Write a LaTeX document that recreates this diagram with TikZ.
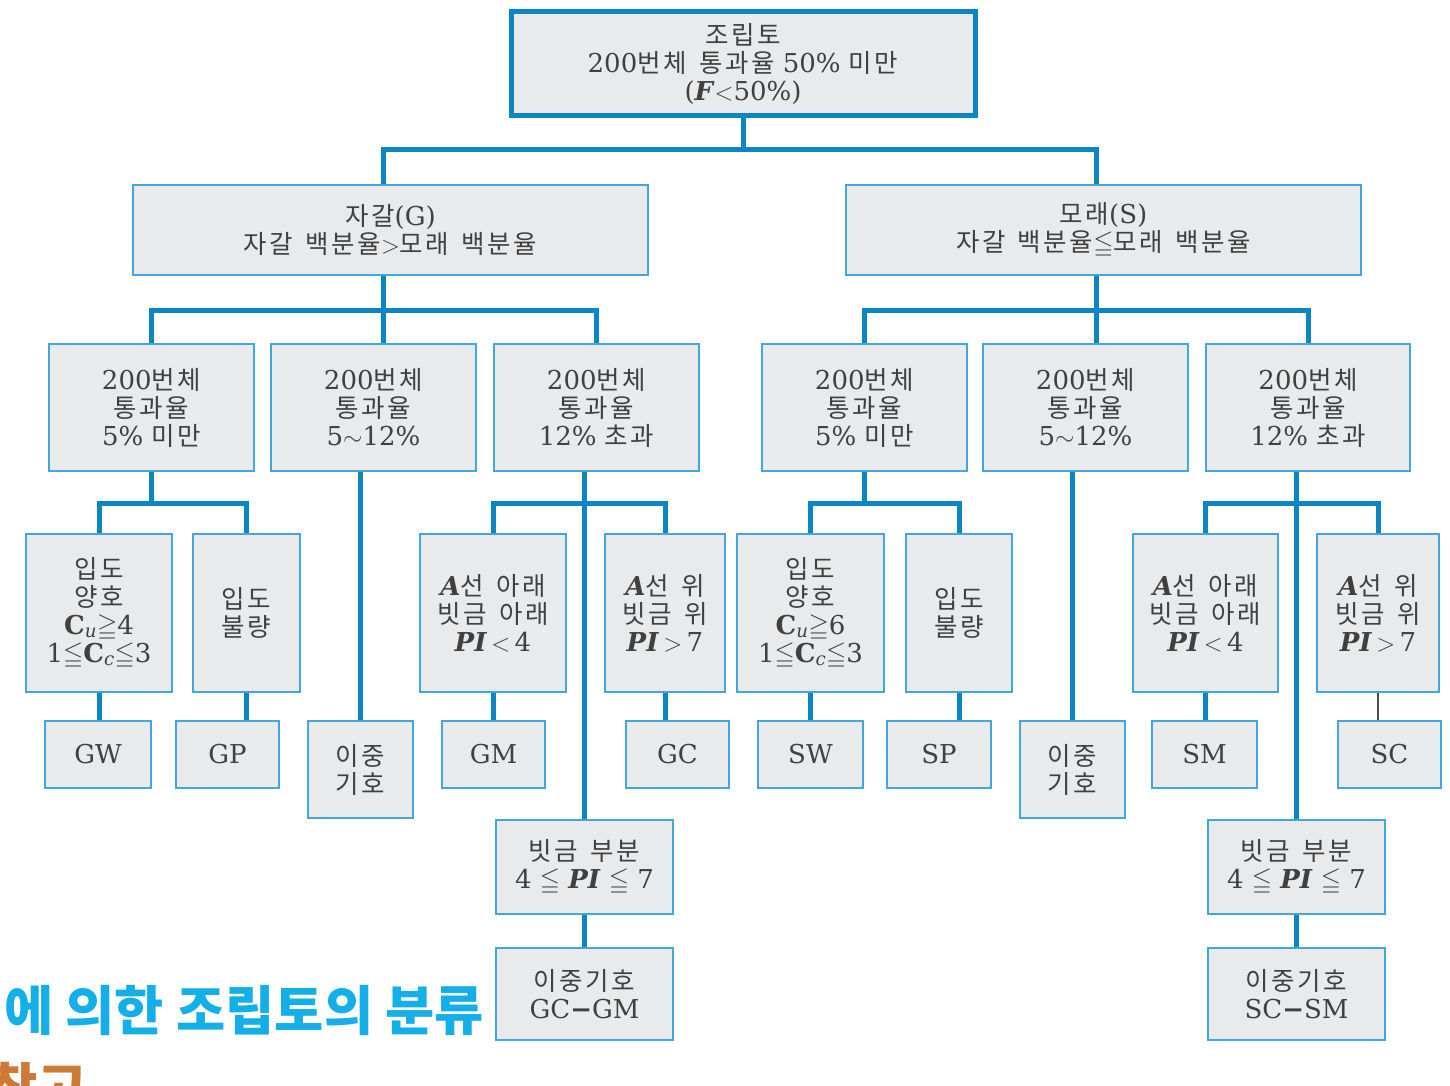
\documentclass[tikz,border=0pt]{standalone}
\usepackage{fontspec}
\usepackage{amssymb}
\setmainfont{DejaVu Serif}
\newfontfamily\krf{Noto Sans CJK KR}[Scale=0.98,LetterSpace=10,WordSpace=1.5]
\newfontfamily\krtitle{Noto Sans CJK KR}
\newcommand\hk[1]{{\krf #1}}
\newcommand\bi[1]{\textbf{\textit{#1}}}
\newcommand\sbx[1]{\textsubscript{\textit{#1}}}
\definecolor{cblue}{HTML}{0A86C6}
\definecolor{bbord}{HTML}{45A6DA}
\definecolor{bfill}{HTML}{E9EAEC}
\definecolor{tcol}{HTML}{404040}
\definecolor{tcyan}{HTML}{14AEE8}
\definecolor{torange}{HTML}{CD7A36}
\tikzset{
  box/.style={draw=bbord, fill=bfill, line width=2pt, inner sep=0pt, align=center,
    text=tcol, font=\fontsize{26}{28}\selectfont},
  topbox/.style={box, draw=cblue, line width=5pt},
  conn/.style={draw=cblue, line width=5pt},
  thinconn/.style={draw=black!70, line width=1.5pt},
}
\newcommand\kbox[7][box]{\node[#1, minimum width={#5-#3}, minimum height={#6-#4}] (#2) at ({(#3+#5)/2},{(#4+#6)/2}) {#7};}
\begin{document}
\begin{tikzpicture}[x=1pt,y=-1pt]
\useasboundingbox (0,0) rectangle (1450,1086);
\clip (0,0) rectangle (1450,1086);
% level 1-2
\kbox[topbox]{top}{511}{12}{975}{116}{\hk{조립토}\\200\hk{번체 통과율} 50\% \hk{미만}\\(\bi{F}$<$50\%)}
\kbox{G}{133}{185}{648}{275}{\hk{자갈}(G)\\\hk{자갈 백분율}$>$\hk{모래 백분율}}
\kbox{S}{846}{185}{1361}{275}{\hk{모래}(S)\\\hk{자갈 백분율}$\leqq$\hk{모래 백분율}}
% level 3
\kbox{g1}{49}{344}{254}{471}{200\hk{번체}\\\hk{통과율}\\5\% \hk{미만}}
\kbox{g2}{271}{344}{476}{471}{200\hk{번체}\\\hk{통과율}\\5$\sim$12\%}
\kbox{g3}{494}{344}{699}{471}{200\hk{번체}\\\hk{통과율}\\12\% \hk{초과}}
\kbox{s1}{762}{344}{967}{471}{200\hk{번체}\\\hk{통과율}\\5\% \hk{미만}}
\kbox{s2}{983}{344}{1188}{471}{200\hk{번체}\\\hk{통과율}\\5$\sim$12\%}
\kbox{s3}{1206}{344}{1410}{471}{200\hk{번체}\\\hk{통과율}\\12\% \hk{초과}}
% level 4
\kbox{ga}{26}{534}{172}{692}{\hk{입도}\\\hk{양호}\\\textbf{C}\sbx{u}$\geqq$4\\1$\leqq$\textbf{C}\sbx{c}$\leqq$3}
\kbox{gb}{193}{534}{300}{692}{\hk{입도}\\\hk{불량}}
\kbox{gc}{420}{534}{566}{692}{\bi{A}\hk{선 아래}\\\hk{빗금 아래}\\\bi{PI}\,$<$\,4}
\kbox{gd}{605}{534}{725}{692}{\bi{A}\hk{선 위}\\\hk{빗금 위}\\\bi{PI}\,$>$\,7}
\kbox{sa}{737}{534}{884}{692}{\hk{입도}\\\hk{양호}\\\textbf{C}\sbx{u}$\geqq$6\\1$\leqq$\textbf{C}\sbx{c}$\leqq$3}
\kbox{sb}{906}{534}{1012}{692}{\hk{입도}\\\hk{불량}}
\kbox{sc}{1133}{534}{1278}{692}{\bi{A}\hk{선 아래}\\\hk{빗금 아래}\\\bi{PI}\,$<$\,4}
\kbox{sd}{1317}{534}{1439}{692}{\bi{A}\hk{선 위}\\\hk{빗금 위}\\\bi{PI}\,$>$\,7}
% level 5
\kbox{GW}{45}{721}{151}{788}{GW}
\kbox{GP}{176}{721}{279}{788}{GP}
\kbox{gdual}{308}{721}{413}{818}{\hk{이중}\\\hk{기호}}
\kbox{GM}{442}{721}{545}{788}{GM}
\kbox{GC}{626}{721}{729}{788}{GC}
\kbox{SW}{758}{721}{863}{788}{SW}
\kbox{SP}{887}{721}{991}{788}{SP}
\kbox{sdual}{1020}{721}{1125}{818}{\hk{이중}\\\hk{기호}}
\kbox{SM}{1152}{721}{1257}{788}{SM}
\kbox{SC}{1338}{721}{1441}{788}{SC}
% borderline
\kbox{ghat}{496}{820}{673}{914}{\hk{빗금 부분}\\4 $\leqq$ \bi{PI} $\leqq$ 7}
\kbox{gdb}{496}{948}{673}{1040}{\hk{이중기호}\\GC\textbf{−}GM}
\kbox{shat}{1208}{820}{1385}{914}{\hk{빗금 부분}\\4 $\leqq$ \bi{PI} $\leqq$ 7}
\kbox{sdb}{1208}{948}{1385}{1040}{\hk{이중기호}\\SC\textbf{−}SM}
% junctions
\coordinate (j1) at (743,150);
\coordinate (xG) at (383,0);
\coordinate (xS) at (1096,0);
\coordinate (j2) at (383,310);
\coordinate (j3) at (1096,310);
\coordinate (j4) at (152,503);
\coordinate (j5) at (583,503);
\coordinate (j6) at (864,503);
\coordinate (j7) at (1296,503);
% connectors
\draw[conn] (top.south) -- (j1);
\draw[conn] (G.north -| xG) |- (j1) -| (S.north -| xS);
\draw[conn] (G.south -| xG) -- (g2.north -| xG);
\draw[conn] (g1.north) |- (j2) -| (g3.north);
\draw[conn] (S.south -| xS) -- (s2.north -| xS);
\draw[conn] (s1.north) |- (j3) -| (s3.north);
\draw[conn] (g1.south) -- (g1.south |- j4);
\draw[conn] (ga.north) |- (j4) -| (gb.north);
\draw[conn] (g2.south -| gdual.north) -- (gdual.north);
\draw[conn] (g3.south -| ghat.north) -- (ghat.north);
\draw[conn] (gc.north) |- (j5) -| (gd.north);
\draw[conn] (ghat.south) -- (gdb.north);
\draw[conn] (s1.south) -- (s1.south |- j6);
\draw[conn] (sa.north) |- (j6) -| (sb.north);
\draw[conn] (s2.south -| sdual.north) -- (sdual.north);
\draw[conn] (s3.south -| shat.north) -- (shat.north);
\draw[conn] (sc.north) |- (j7) -| (sd.north);
\draw[conn] (shat.south) -- (sdb.north);
\draw[conn] (ga.south) -- (ga.south |- GW.north);
\draw[conn] (gb.south) -- (gb.south |- GP.north);
\draw[conn] (gc.south) -- (gc.south |- GM.north);
\draw[conn] (gd.south) -- (gd.south |- GC.north);
\draw[conn] (sa.south) -- (sa.south |- SW.north);
\draw[conn] (sb.south) -- (sb.south |- SP.north);
\draw[conn] (sc.south) -- (sc.south |- SM.north);
\draw[thinconn] (sd.south) -- (sd.south |- SC.north);
% captions
\node[anchor=base west, inner sep=0pt, text=tcyan,
  font=\krtitle\bfseries\fontsize{53.5}{54}\selectfont] (title) at (4,1030) {에 의한 조립토의 분류};
\node[anchor=base west, inner sep=0pt, text=torange,
  font=\krtitle\bfseries\fontsize{53.5}{54}\selectfont] (ref) at (-12,1107) {참고};
\end{tikzpicture}
\end{document}
